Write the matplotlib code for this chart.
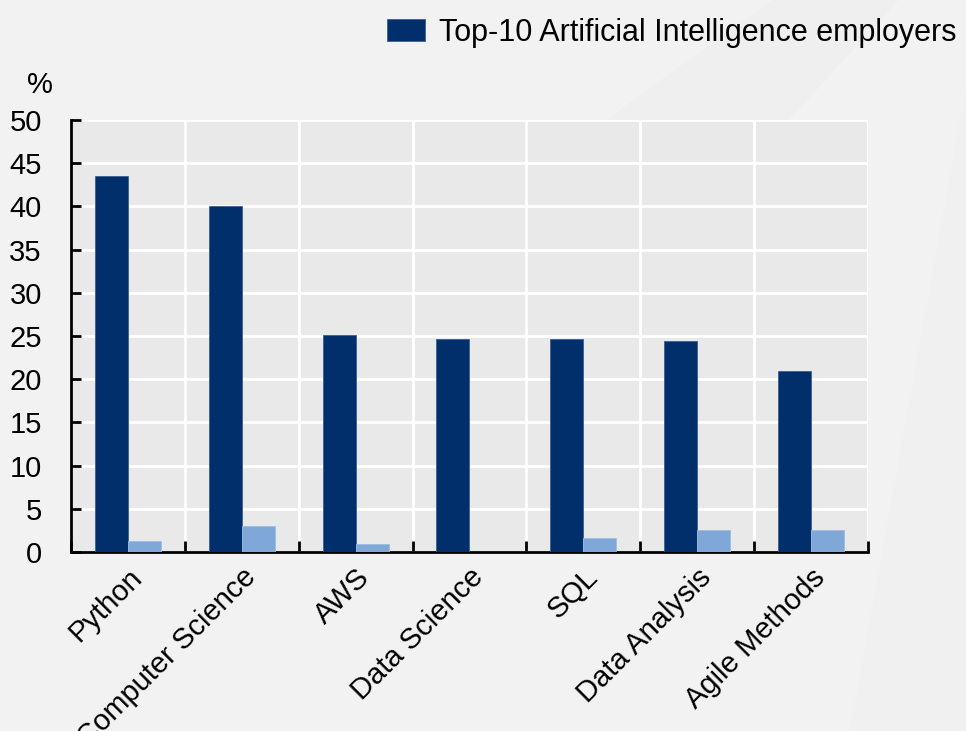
import matplotlib
matplotlib.use("Agg")
import matplotlib.pyplot as plt
import numpy as np
from matplotlib.patches import Polygon

categories = ["Python", "Computer Science", "AWS", "Data Science", "SQL", "Data Analysis", "Agile Methods"]
top10_ai = [43.5, 40.0, 25.1, 24.7, 24.7, 24.4, 20.9]
all_employers = [1.3, 3.0, 0.95, 0.0, 1.6, 2.6, 2.6]
yticks = [0, 5, 10, 15, 20, 25, 30, 35, 40, 45, 50]

plt.rcParams["font.family"] = ["Liberation Sans", "DejaVu Sans"]

fig = plt.figure(figsize=(9.66, 7.31), dpi=100)
fig.patch.set_facecolor("#f2f2f2")
# faint background shapes
fig.patches.append(Polygon([[0.80, 1.0], [0.93, 1.0], [0.55, 0.45], [0.40, 0.62]], closed=True,
                           transform=fig.transFigure, facecolor="#efefef", edgecolor="none", zorder=0))
fig.patches.append(Polygon([[0.88, 0.0], [1.0, 0.0], [1.0, 0.88]], closed=True,
                           transform=fig.transFigure, facecolor="#f0f0f0", edgecolor="none", zorder=0))

ax = fig.add_axes([71/966, 1 - 552/731, (868 - 71)/966, (552 - 120)/731])
ax.set_zorder(2)
ax.set_facecolor("#e9e9e9")

x = np.arange(len(categories))
w = 0.29
ax.bar(x - w/2, top10_ai, width=w, color="#002f6c", edgecolor="#3a5f90", linewidth=0.6,
       label="Top-10 Artificial Intelligence employers", zorder=3)
ax.bar(x + w/2, all_employers, width=w, color="#7fa8d9", edgecolor="#9dbde3", linewidth=0.6,
       zorder=3)

ax.set_xlim(-0.5, len(categories) - 0.5)
ax.set_ylim(0, 50)
ax.set_yticks(yticks)
ax.set_yticklabels([str(v) for v in yticks], fontsize=21)
ax.set_xticks(x)
ax.set_xticklabels(categories, rotation=45, ha="right", va="top", rotation_mode="anchor", fontsize=21)
ax.tick_params(axis="x", length=0, pad=8)
ax.tick_params(axis="y", direction="in", length=7, width=2, pad=21)

# boundary ticks and vertical grid
bounds = np.arange(-0.5, len(categories) + 0.5, 1.0)
ax.set_xticks(bounds, minor=True)
ax.tick_params(axis="x", which="minor", direction="in", length=8, width=2)
ax.grid(True, axis="y", color="white", linewidth=2, zorder=1)
ax.grid(True, axis="x", which="minor", color="white", linewidth=2, zorder=1)
ax.set_axisbelow(True)

for s in ["top", "right"]:
    ax.spines[s].set_visible(False)
ax.spines["left"].set_linewidth(2)
ax.spines["bottom"].set_linewidth(2)

fig.text(40/966, 1 - 85/731, "%", fontsize=21, ha="center", va="center")

leg = fig.legend(handles=[ax.patches[0]], labels=["Top-10 Artificial Intelligence employers"],
                 loc="upper right", bbox_to_anchor=(984/966, 1 + 10/731), frameon=False,
                 fontsize=22, handlelength=1.25, handleheight=0.75, handletextpad=0.45)

fig.savefig("out.png", dpi=100, facecolor=fig.get_facecolor())
